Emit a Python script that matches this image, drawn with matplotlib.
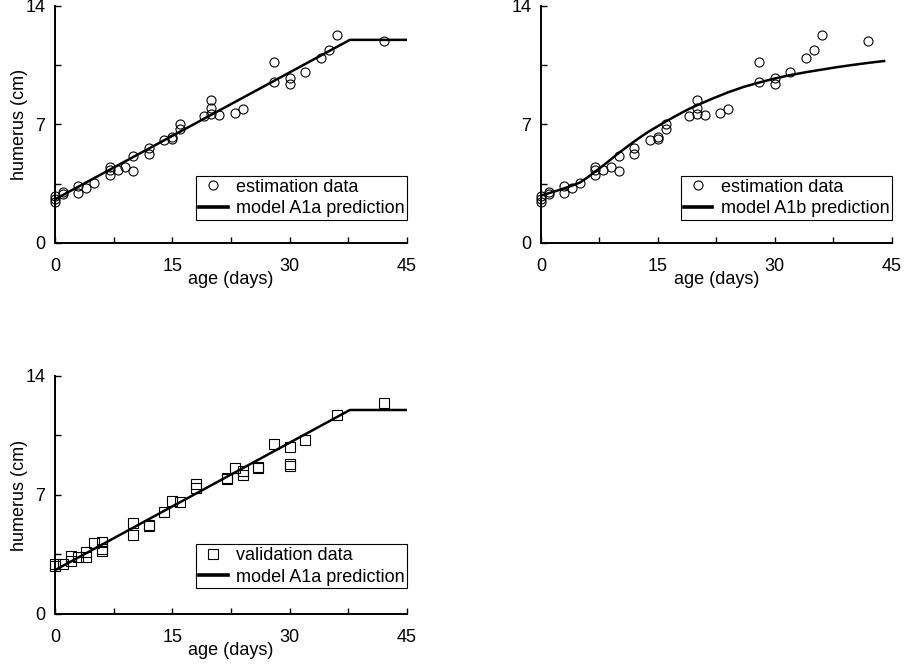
import numpy as np
import matplotlib
matplotlib.use("Agg")
import matplotlib.pyplot as plt
from matplotlib.ticker import MultipleLocator

plt.rcParams['font.family'] = ['Liberation Sans', 'DejaVu Sans']
plt.rcParams['font.size'] = 13

# estimation data (age in days, humerus in cm)
est_age = [0, 0, 0, 1, 1, 3, 3, 4, 5, 7, 7, 7, 8, 9, 10, 10, 12, 12, 14, 15, 15,
           16, 16, 19, 20, 20, 20, 21, 23, 24, 28, 28, 30, 30, 32, 34, 35, 36, 42]
est_hum = [2.80, 2.62, 2.40, 3.04, 2.88, 3.37, 2.94, 3.23, 3.53, 4.48, 4.29, 4.03,
           4.33, 4.48, 5.16, 4.27, 5.61, 5.26, 6.07, 6.27, 6.17, 7.00, 6.71, 7.50,
           8.43, 8.00, 7.64, 7.56, 7.70, 7.90, 10.71, 9.52, 9.72, 9.42, 10.12,
           10.91, 11.41, 12.26, 11.92]

# validation data
val_age = [0, 0, 1, 2, 2, 3, 4, 4, 5, 6, 6, 6, 10, 10, 12, 12, 14, 15, 16, 18, 18,
           22, 22, 23, 24, 24, 26, 26, 28, 30, 30, 30, 32, 36, 42]
val_hum = [2.94, 2.80, 2.94, 3.42, 3.13, 3.33, 3.66, 3.33, 4.17, 4.25, 3.82, 3.68,
           5.34, 4.64, 5.22, 5.19, 6.01, 6.65, 6.61, 7.63, 7.44, 8.02, 7.94, 8.57,
           8.41, 8.16, 8.67, 8.57, 10.02, 9.82, 8.81, 8.71, 10.22, 11.70, 12.43]

# model A1a (broken line)
a1a_age = [0, 37.7, 45]
a1a_hum = [2.58, 12.0, 12.0]

# model A1b
a1b_age = [0, 1, 2, 3, 4, 5, 6, 7, 8, 9, 10, 11, 12, 13, 14, 15, 16, 17, 18, 19, 20,
           22, 24, 26, 28, 30, 32, 34, 36, 38, 40, 42, 44]
a1b_hum = [2.80, 2.94, 3.08, 3.23, 3.39, 3.57, 3.88, 4.23, 4.58, 4.95, 5.32, 5.67,
           6.01, 6.33, 6.63, 6.90, 7.17, 7.43, 7.68, 7.92, 8.13, 8.53, 8.90, 9.22,
           9.48, 9.72, 9.92, 10.09, 10.24, 10.39, 10.52, 10.64, 10.75]

fig = plt.figure(figsize=(9.06, 6.65), dpi=100)
ax1 = fig.add_axes([0.0607, 0.6346, 0.3885, 0.3564])
ax2 = fig.add_axes([0.5970, 0.6346, 0.3874, 0.3564])
ax3 = fig.add_axes([0.0607, 0.0767, 0.3885, 0.3579])


def style_axes(ax, ylabel=True):
    ax.set_xlim(0, 45)
    ax.set_ylim(0, 14)
    ax.xaxis.set_major_locator(MultipleLocator(15))
    ax.xaxis.set_minor_locator(MultipleLocator(7.5))
    ax.yaxis.set_major_locator(MultipleLocator(7))
    ax.yaxis.set_minor_locator(MultipleLocator(3.5))
    ax.tick_params(which='both', direction='in', length=4, width=1)
    ax.tick_params(axis='x', which='major', pad=11)
    ax.tick_params(axis='y', which='major', pad=7)
    for s in ['top', 'right']:
        ax.spines[s].set_visible(False)
    for s in ['left', 'bottom']:
        ax.spines[s].set_linewidth(1.4)
    ax.set_xlabel("age (days)")
    ax.xaxis.set_label_coords(0.5, -0.117)
    if ylabel:
        ax.set_ylabel("humerus (cm)")
        ax.yaxis.set_label_coords(-0.078, 0.5)


def add_legend(ax, y0):
    leg = ax.legend(loc='lower right', bbox_to_anchor=(1.0, y0), borderaxespad=0,
                    fancybox=False, edgecolor='black', framealpha=1,
                    borderpad=0.15, labelspacing=0.25, handlelength=1.6,
                    handletextpad=0.45, fontsize=13)
    leg.get_frame().set_linewidth(0.8)
    leg.get_lines()[1].set_linewidth(2.6)


ax1.plot(est_age, est_hum, 'o', mfc='none', mec='black', ms=6.5, mew=0.8,
         clip_on=False, label='estimation data')
ax1.plot(a1a_age, a1a_hum, '-', color='black', lw=1.8, label='model A1a prediction')
style_axes(ax1)
add_legend(ax1, 0.097)

ax2.plot(est_age, est_hum, 'o', mfc='none', mec='black', ms=6.5, mew=0.8,
         clip_on=False, label='estimation data')
ax2.plot(a1b_age, a1b_hum, '-', color='black', lw=1.8, label='model A1b prediction')
style_axes(ax2, ylabel=False)
add_legend(ax2, 0.097)

ax3.plot(val_age, val_hum, 's', mfc='none', mec='black', ms=7, mew=0.8,
         clip_on=False, label='validation data')
ax3.plot(a1a_age, a1a_hum, '-', color='black', lw=1.8, label='model A1a prediction')
style_axes(ax3)
add_legend(ax3, 0.108)

fig.savefig("out.png", dpi=100)
